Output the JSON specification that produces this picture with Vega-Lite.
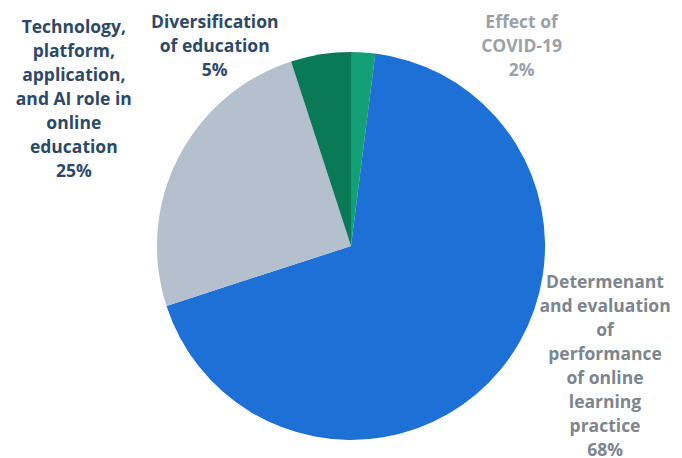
{
  "$schema": "https://vega.github.io/schema/vega-lite/v6.json",
  "width": 662,
  "height": 424,
  "autosize": {"type": "none"},
  "padding": {"left": 20, "top": 34, "right": 0, "bottom": 0},
  "background": "white",
  "config": {"view": {"stroke": null}},
  "data": {
    "values": [
      {"idx": 1, "category": "Effect of COVID-19", "value": 2, "label": "Effect of\nCOVID-19\n2%"},
      {"idx": 2, "category": "Determenant and evaluation of performance of online learning practice", "value": 68, "label": "Determenant\nand evaluation\nof\nperformance\nof online\nlearning\npractice\n68%"},
      {"idx": 3, "category": "Technology, platform, application, and AI role in online education", "value": 25, "label": "Technology,\nplatform,\napplication,\nand AI role in\nonline\neducation\n25%"},
      {"idx": 4, "category": "Diversification of education", "value": 5, "label": "Diversification\nof education\n5%"}
    ]
  },
  "encoding": {
    "theta": {"field": "value", "type": "quantitative", "stack": true},
    "order": {"field": "idx", "type": "quantitative", "sort": "ascending"}
  },
  "layer": [
    {
      "mark": {"type": "arc", "outerRadius": 194},
      "encoding": {
        "color": {
          "field": "idx",
          "type": "nominal",
          "scale": {"domain": [1, 2, 3, 4], "range": ["#14a077", "#1c70d6", "#b5c0cf", "#0a7a56"]},
          "legend": null
        }
      }
    },
    {
      "mark": {"type": "text", "radius": 310, "dx": -1, "dy": -77, "font": "Open Sans", "fontWeight": "bold", "fontSize": 17.5, "lineHeight": 24, "lineBreak": "\n", "align": "center", "baseline": "middle", "color": "#2d4968"},
      "encoding": {"text": {"condition": {"test": "datum.idx === 3", "field": "label"}, "value": ""}}
    },
    {
      "mark": {"type": "text", "radius": 200, "dx": -105, "dy": -25, "font": "Open Sans", "fontWeight": "bold", "fontSize": 17.5, "lineHeight": 24, "lineBreak": "\n", "align": "center", "baseline": "middle", "color": "#2d4968"},
      "encoding": {"text": {"condition": {"test": "datum.idx === 4", "field": "label"}, "value": ""}}
    },
    {
      "mark": {"type": "text", "radius": 200, "dx": 158, "dy": -23, "font": "Open Sans", "fontWeight": "bold", "fontSize": 17.5, "lineHeight": 24, "lineBreak": "\n", "align": "center", "baseline": "middle", "color": "#9aa1a9"},
      "encoding": {"text": {"condition": {"test": "datum.idx === 1", "field": "label"}, "value": ""}}
    },
    {
      "mark": {"type": "text", "radius": 270, "dx": 46, "dy": -135, "font": "Open Sans", "fontWeight": "bold", "fontSize": 17.5, "lineHeight": 24, "lineBreak": "\n", "align": "center", "baseline": "middle", "color": "#7d858e"},
      "encoding": {"text": {"condition": {"test": "datum.idx === 2", "field": "label"}, "value": ""}}
    }
  ]
}
